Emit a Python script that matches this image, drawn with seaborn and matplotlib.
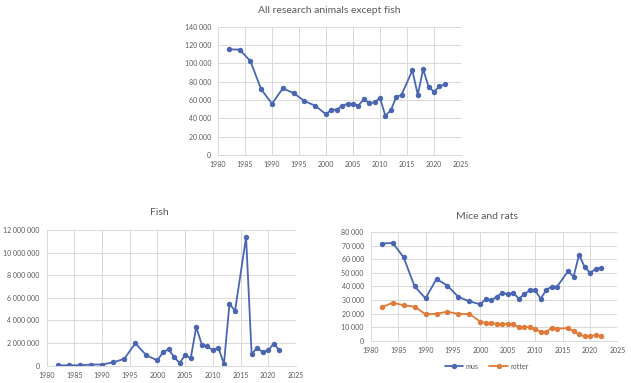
import matplotlib
matplotlib.use("Agg")
import matplotlib.pyplot as plt
from matplotlib.ticker import FuncFormatter, MultipleLocator
import seaborn as sns
import pandas as pd

years = [1982, 1984, 1986, 1988, 1990, 1992, 1994, 1996, 1998, 2000, 2001, 2002,
         2003, 2004, 2005, 2006, 2007, 2008, 2009, 2010, 2011, 2012, 2013, 2014,
         2016, 2017, 2018, 2019, 2020, 2021, 2022]

all_except_fish = [115300, 115000, 102500, 71600, 56000, 72700, 67600, 58900, 53800,
                   44500, 49400, 49600, 53500, 56000, 56000, 54000, 60700, 56600,
                   57500, 62300, 42800, 48700, 63000, 65800, 92300, 65800, 93600,
                   74500, 69000, 74800, 77000]

fish = [30000, 30000, 40000, 100000, 100000, 300000, 600000, 1980000, 910000,
        470000, 1200000, 1450000, 770000, 240000, 940000, 650000, 3420000, 1860000,
        1710000, 1360000, 1600000, 150000, 5460000, 4840000, 11360000, 1000000,
        1600000, 1180000, 1360000, 1950000, 1360000]

mus = [71400, 72100, 61400, 40100, 31300, 45500, 40600, 32300, 29100, 26900,
       30800, 29800, 32500, 35500, 34200, 35500, 31000, 34200, 37200, 37200,
       31000, 37400, 39900, 39900, 51300, 47200, 63300, 54500, 50100, 52600, 53800]

rotter = [24700, 28100, 26200, 25200, 19600, 20000, 21500, 19800, 19800, 14200,
          13200, 13200, 12500, 12200, 12700, 12200, 10300, 10000, 10500, 8600,
          6800, 6600, 9800, 9000, 9500, 7100, 4900, 3400, 3400, 4400, 3400]

titles = ["All research animals except fish", "Fish", "Mice and rats"]
series_names = ["mus", "rotter"]

BLUE = "#4a66b3"
ORANGE = "#e07b39"
GRID = "#d9d9d9"
TXT = "#595959"

sns.set_theme(style="white")
plt.rcParams["font.family"] = ["Lato", "DejaVu Sans"]

fig = plt.figure(figsize=(6.31, 3.83), dpi=100)
ax1 = fig.add_axes([0.3455, 0.5953, 0.385, 0.335])
ax2 = fig.add_axes([0.074, 0.0452, 0.395, 0.3545])
ax3 = fig.add_axes([0.5875, 0.1097, 0.391, 0.2846])

fmt = FuncFormatter(lambda v, p: f"{int(round(v)):,}".replace(",", " "))

df1 = pd.DataFrame({"year": years, "value": all_except_fish})
df2 = pd.DataFrame({"year": years, "value": fish})
df3 = pd.DataFrame({"year": years * 2, "value": mus + rotter,
                    "series": [series_names[0]] * len(years) + [series_names[1]] * len(years)})

kw = dict(marker="o", markersize=3.9, linewidth=1.3, markeredgewidth=0)
sns.lineplot(data=df1, x="year", y="value", ax=ax1, color=BLUE, **kw)
sns.lineplot(data=df2, x="year", y="value", ax=ax2, color=BLUE, **kw)
sns.lineplot(data=df3, x="year", y="value", hue="series", ax=ax3,
             palette=[BLUE, ORANGE], **kw)

limits = [(0, 140000, 20000), (0, 12000000, 2000000), (0, 80000, 10000)]
title_x = [0.457, 0.45, 0.47]
title_pad = [10, 11, 9]
for ax, title, (lo, hi, step), tx, tp in zip([ax1, ax2, ax3], titles, limits, title_x, title_pad):
    ax.set_xlim(1980, 2025)
    ax.set_ylim(lo, hi)
    ax.xaxis.set_major_locator(MultipleLocator(5))
    ax.yaxis.set_major_locator(MultipleLocator(step))
    ax.yaxis.set_major_formatter(fmt)
    ax.grid(True, color=GRID, linewidth=0.7)
    ax.set_axisbelow(True)
    for s in ax.spines.values():
        s.set_visible(False)
    ax.spines["bottom"].set_visible(True)
    ax.spines["bottom"].set_color(GRID)
    ax.spines["bottom"].set_linewidth(0.7)
    ax.tick_params(axis="both", labelsize=5.0, colors=TXT, length=0)
    ax.tick_params(axis="y", pad=5)
    ax.tick_params(axis="x", pad=4.5)
    ax.set_xlabel("")
    ax.set_ylabel("")
    ax.set_title(title, fontsize=7.5, color=TXT, pad=tp, x=tx)

leg = ax3.legend(loc="upper center", bbox_to_anchor=(0.47, -0.14), ncol=2,
                 frameon=False, fontsize=5.2, handlelength=2.6, columnspacing=1.5,
                 handletextpad=0.3)
for t in leg.get_texts():
    t.set_color(TXT)

fig.savefig("out.png", dpi=100)
